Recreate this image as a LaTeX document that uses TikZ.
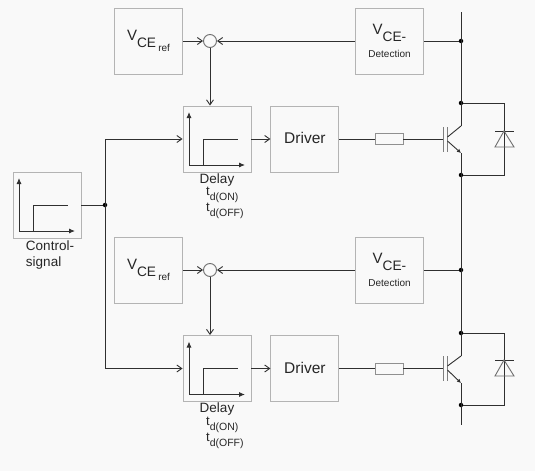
\documentclass[tikz,border=0pt]{standalone}
\usepackage{fontspec}
\setmainfont{Liberation Sans}
\usetikzlibrary{arrows.meta,positioning,calc}
\definecolor{boxgray}{HTML}{B4B4B4}
\definecolor{wiredark}{HTML}{303030}
\definecolor{pagegray}{HTML}{F9F9F9}
\newcommand{\vceref}{{\fontsize{15}{15}\selectfont V}\raisebox{-7pt}{\fontsize{13.7}{14}\selectfont CE}\,\raisebox{-11pt}{\fontsize{10}{10}\selectfont ref}}
\newcommand{\vcedet}{{\fontsize{15}{15}\selectfont V}\raisebox{-7pt}{\fontsize{13.7}{14}\selectfont CE-}\\[7pt]{\fontsize{10}{10}\selectfont Detection}}
\newcommand{\tdelay}[1]{{\fontsize{13}{13}\selectfont t}\raisebox{-5pt}{\fontsize{10.5}{10}\selectfont d(#1)}}
\begin{document}
\begin{tikzpicture}[x=1pt,y=-1pt,
 every node/.style={font=\fontsize{13.5}{16}\selectfont,text=black!85},
 box/.style={draw=boxgray,line width=0.9pt,minimum width=68pt,minimum height=66pt,align=center,inner sep=0pt},
 sumpt/.style={draw=wiredark!70,circle,fill=pagegray,line width=0.9pt,minimum size=13pt,inner sep=0pt},
 res/.style={draw=boxgray!80!black,line width=0.9pt,fill=pagegray,minimum width=28pt,minimum height=11pt,inner sep=0pt},
 dot/.style={circle,fill=black,minimum size=4.5pt,inner sep=0pt},
 wire/.style={draw=wiredark,line width=0.9pt},
 sig/.style={wire,-{Straight Barb[length=5pt,width=7pt]}},
 tlabel/.style={anchor=west,inner sep=0pt},
 stepgraph/.pic={
  \draw[wire,-{Latex[length=6pt,width=5pt]}] (-28,26) -- (-28,-27);
  \draw[wire,-{Latex[length=6pt,width=5pt]}] (-28,26) -- (28,26);
  \draw[wire] (-14,26) -- (-14,0) -- (21,0);
 }]
\useasboundingbox[fill=pagegray] (0,0) rectangle (535,471);
\node[box] (ctrl) at (47,205) {};
\pic at (ctrl.center) {stepgraph};
\node[below=2pt of ctrl,xshift=3pt,align=left,inner sep=0pt] (ctrllab) {Control-\\signal};
\node[dot] (split) at (105,205) {};
% upper branch
\node[box] (ref1) at (148.5,41) {\vceref};
\node[sumpt] (sum1) at (210,41) {};
\node[box] (delay1) at (217,139) {};
\pic at (delay1.center) {stepgraph};
\node[box,right=19pt of delay1,font=\fontsize{15.5}{16}\selectfont] (drv1) {\raisebox{1.5pt}{Driver}};
\node[box] (det1) at (389.5,41) {\vcedet};
\node[res] (res1) at (389,139) {};
\node[below=1pt of delay1,inner sep=0pt] (lab1) {Delay};
\node[tlabel] (ton1) at (206,195) {\tdelay{ON}};
\node[tlabel] (toff1) at (206,210.5) {\tdelay{OFF}};
% lower branch
\node[box] (ref2) at (148.5,270) {\vceref};
\node[sumpt] (sum2) at (210,270) {};
\node[box] (delay2) at (217,368.5) {};
\pic at (delay2.center) {stepgraph};
\node[box,right=19pt of delay2,font=\fontsize{15.5}{16}\selectfont] (drv2) {\raisebox{1.5pt}{Driver}};
\node[box] (det2) at (389.5,270) {\vcedet};
\node[res] (res2) at (389,368.5) {};
\node[below=1pt of delay2,inner sep=0pt] (lab2) {Delay};
\node[tlabel] (ton2) at (206,425) {\tdelay{ON}};
\node[tlabel] (toff2) at (206,440.5) {\tdelay{OFF}};
% bus
\coordinate (bustop) at (461,12);
\coordinate (busbot) at (461,425);
\coordinate (c1) at (461,126);
\coordinate (e1) at (461,153);
\coordinate (c2) at (461,356);
\coordinate (e2) at (461,383);
\node[dot] (tap1) at (461,41) {};
\node[dot] (top1) at (461,103) {};
\node[dot] (bot1) at (461,175) {};
\node[dot] (tap2) at (461,270) {};
\node[dot] (top2) at (461,333) {};
\node[dot] (bot2) at (461,405) {};
\draw[wire] (bustop) -- (c1);
\draw[wire] (e1) -- (c2);
\draw[wire] (e2) -- (busbot);
% signal paths
\draw[wire] (ctrl.east) -- (split);
\draw[sig] (split.center |- delay1.west) -- (delay1.west);
\draw[sig] (split.center |- delay2.west) -- (delay2.west);
\draw[wire] (split.center |- delay1.west) -- (split.center |- delay2.west);
\draw[sig] (ref1.east) -- (sum1.west);
\draw[sig] (det1.west) -- (sum1.east);
\draw[wire] (det1.east) -- (tap1);
\draw[sig] (sum1.south) -- (sum1.south |- delay1.north);
\draw[sig] (delay1.east) -- (drv1.west);
\draw[wire] (drv1.east) -- (res1.west);
\draw[sig] (ref2.east) -- (sum2.west);
\draw[sig] (det2.west) -- (sum2.east);
\draw[wire] (det2.east) -- (tap2);
\draw[sig] (sum2.south) -- (sum2.south |- delay2.north);
\draw[sig] (delay2.east) -- (drv2.west);
\draw[wire] (drv2.east) -- (res2.west);
% transistors
\coordinate (g1) at (443,139);
\coordinate (g2) at (443,368.5);
\draw[wire] (res1.east) -- (g1);
\draw[wire] (res2.east) -- (g2);
\draw[boxgray!70!black,line width=1.3pt] (443.5,127) -- (443.5,152);
\draw[boxgray!70!black,line width=1.3pt] (447.5,127) -- (447.5,152);
\draw[boxgray!70!black,line width=1.3pt] (443.5,356) -- (443.5,381);
\draw[boxgray!70!black,line width=1.3pt] (447.5,356) -- (447.5,381);
\draw[wire] (447.5,137) -- (c1);
\draw[wire,-{Latex[length=4pt,width=4pt]}] (447.5,141) -- (e1);
\draw[wire] (447.5,366) -- (c2);
\draw[wire,-{Latex[length=4pt,width=4pt]}] (447.5,370) -- (e2);
% diodes
\draw[wire] (top1) -- (504,103) -- (504,175) -- (bot1);
\draw[wire] (top2) -- (504,333) -- (504,405) -- (bot2);
\draw[wire] (495,131) -- (514,131);
\draw[wire,draw=wiredark!70] (504,131) -- (495,147) -- (514,147) -- cycle;
\draw[wire] (495,360) -- (514,360);
\draw[wire,draw=wiredark!70] (504,360) -- (495,376) -- (514,376) -- cycle;
\end{tikzpicture}
\end{document}
